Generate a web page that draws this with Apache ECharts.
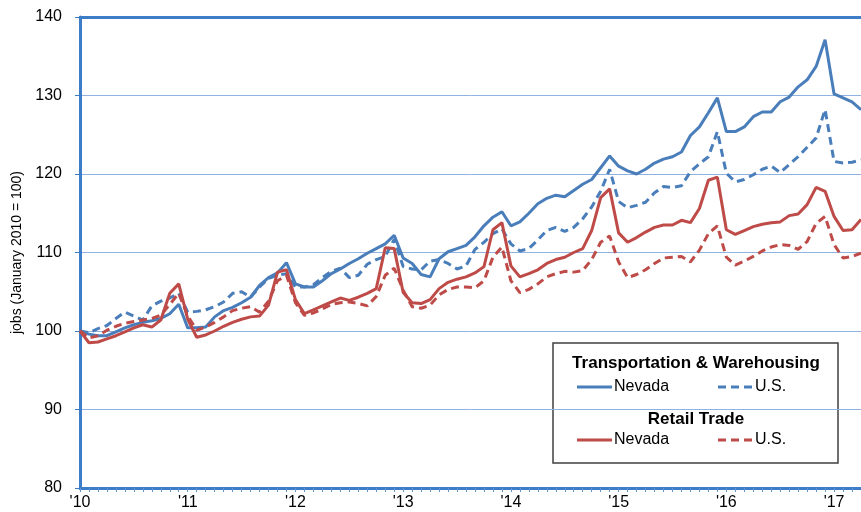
<!DOCTYPE html>
<html>
<head>
<meta charset="utf-8">
<script src="https://cdn.jsdelivr.net/npm/echarts@6/dist/echarts.min.js"></script>
<style>
  html, body { margin: 0; padding: 0; background: #fff; }
  #chart { width: 861px; height: 512px; }
</style>
</head>
<body>
<div id="chart"></div>
<script>
// year tick labels, one per January
var yearLabels = ["'10", "'11", "'12", "'13", "'14", "'15", "'16", "'17"];

// Transportation & Warehousing, Nevada (Jan 2010 = 100), Jan 2010 .. Apr 2017
var nvTransport = [
  100, 99.6, 99.4, 99.4, 99.9, 100.4, 100.8, 101.1, 101.3, 101.6, 102.2, 103.4,
  100.4, 100.4, 100.5, 101.8, 102.6, 103.0, 103.6, 104.3, 105.8, 106.8, 107.4, 108.7,
  106.0, 105.6, 105.6, 106.4, 107.3, 107.9, 108.6, 109.2, 109.9, 110.5, 111.1, 112.2,
  109.3, 108.6, 107.2, 106.9, 109.2, 110.1, 110.5, 110.9, 112.0, 113.4, 114.5, 115.2,
  113.4, 113.9, 115.0, 116.2, 116.9, 117.3, 117.1, 117.9, 118.7, 119.3, 120.8, 122.3,
  121.0, 120.4, 120.0, 120.6, 121.4, 121.9, 122.2, 122.8, 124.9, 126.0, 127.8, 129.7,
  125.4, 125.4, 126.0, 127.3, 127.9, 127.9, 129.2, 129.8, 131.1, 132.0, 133.7, 137.1,
  130.2, 129.7, 129.2, 128.2
];
// Transportation & Warehousing, U.S.
var usTransport = [
  100, 99.8, 100.3, 100.7, 101.6, 102.4, 101.9, 101.4, 103.2, 103.8, 104.2, 104.8,
  102.4, 102.5, 102.7, 103.1, 103.7, 104.8, 105.0, 104.3, 105.6, 106.7, 107.1, 107.3,
  105.6, 105.6, 105.9, 106.8, 107.6, 108.0, 106.8, 107.1, 108.5, 109.1, 109.5, 111.7,
  108.2, 107.9, 107.8, 108.9, 109.1, 108.6, 107.9, 108.3, 110.4, 111.3, 112.4, 113.0,
  111.1, 110.2, 110.5, 111.6, 112.8, 113.2, 112.7, 113.2, 114.3, 115.8, 117.8, 120.6,
  116.5, 115.7, 116.0, 116.4, 117.6, 118.4, 118.3, 118.5, 120.3, 121.3, 122.2, 125.4,
  120.1, 119.0, 119.3, 119.9, 120.6, 121.0, 120.2, 121.2, 122.2, 123.4, 124.6, 128.2,
  121.6, 121.4, 121.5, 121.8
];
// Retail Trade, Nevada
var nvRetail = [
  100, 98.5, 98.6, 99.0, 99.4, 99.9, 100.4, 100.8, 100.5, 101.4, 104.8, 106.0,
  101.5, 99.2, 99.5, 100.0, 100.6, 101.1, 101.5, 101.8, 101.9, 103.3, 107.5, 107.8,
  104.0, 102.2, 102.7, 103.2, 103.7, 104.2, 103.9, 104.3, 104.8, 105.4, 110.6, 110.5,
  104.9, 103.6, 103.5, 104.0, 105.4, 106.2, 106.6, 106.9, 107.4, 108.2, 112.9, 113.8,
  108.3, 106.9, 107.3, 107.8, 108.6, 109.1, 109.4, 110.0, 110.5, 112.8, 117.0, 118.1,
  112.5, 111.3, 111.9, 112.6, 113.2, 113.5, 113.5, 114.1, 113.8, 115.6, 119.2, 119.6,
  112.9, 112.3, 112.8, 113.3, 113.6, 113.8, 113.9, 114.7, 114.9, 116.1, 118.3, 117.8,
  114.6, 112.8, 112.9, 114.2
];
// Retail Trade, U.S.
var usRetail = [
  100, 99.1, 99.4, 100.1, 100.6, 101.0, 101.2, 101.4, 101.6, 102.0, 103.4, 104.8,
  101.9, 100.1, 100.5, 101.1, 101.8, 102.6, 102.9, 103.1, 102.4, 103.8, 106.4, 107.1,
  103.6, 102.0, 102.3, 102.8, 103.4, 103.6, 103.7, 103.5, 103.2, 104.4, 107.1, 108.0,
  105.2, 103.1, 102.9, 103.3, 104.6, 105.3, 105.6, 105.6, 105.5, 106.4, 109.4, 110.7,
  106.4, 104.9, 105.3, 106.0, 106.9, 107.3, 107.6, 107.5, 107.7, 109.1, 111.3, 112.1,
  108.8, 106.8, 107.2, 107.8, 108.6, 109.3, 109.4, 109.5, 108.8, 110.3, 112.4, 113.4,
  109.4, 108.4, 108.9, 109.5, 110.2, 110.7, 111.0, 110.9, 110.4, 111.4, 113.7, 114.6,
  111.0, 109.3, 109.5, 109.9
];

// one category per month, labelled only in January
var months = [];
for (var i = 0; i < nvTransport.length; i++) {
  months.push(i % 12 === 0 ? yearLabels[i / 12] : '');
}

var blue = '#4a7ebb';
var red = '#be4b48';
var axisBlue = '#3d7cc6';
var font = "'Liberation Sans', Arial, sans-serif";

var myChart = echarts.init(document.getElementById('chart'));

function legendRow(y, color) {
  return [
    { type: 'line', shape: { x1: 577, y1: y, x2: 612, y2: y }, style: { stroke: color, lineWidth: 3 } },
    { type: 'text', x: 614, y: y, style: { text: 'Nevada', font: '16px ' + font, fill: '#000', textVerticalAlign: 'middle' } },
    { type: 'line', shape: { x1: 718, y1: y, x2: 753, y2: y }, style: { stroke: color, lineWidth: 3, lineDash: [8, 5] } },
    { type: 'text', x: 755, y: y, style: { text: 'U.S.', font: '16px ' + font, fill: '#000', textVerticalAlign: 'middle' } }
  ];
}

var option = {
  animation: false,
  textStyle: { fontFamily: font },
  grid: { left: 80, right: 0, top: 17, bottom: 24 },
  xAxis: [{
    type: 'category',
    data: months,
    boundaryGap: false,
    axisLine: { lineStyle: { color: axisBlue, width: 3 } },
    axisTick: { show: true, interval: 0, length: 4, lineStyle: { color: '#5b93d3', width: 1 } },
    axisLabel: {
      interval: function (idx) { return idx % 12 === 0; },
      color: '#000', fontSize: 16, margin: 7
    },
    splitLine: { show: false }
  }, {
    type: 'category',
    position: 'top',
    data: months,
    boundaryGap: false,
    axisLine: { lineStyle: { color: axisBlue, width: 3 } },
    axisTick: { show: false },
    axisLabel: { show: false }
  }],
  yAxis: {
    type: 'value',
    min: 80,
    max: 140,
    interval: 10,
    name: 'jobs (January 2010 = 100)',
    nameLocation: 'middle',
    nameRotate: 90,
    nameGap: 55,
    nameTextStyle: { color: '#000', fontSize: 14 },
    axisLine: { show: true, lineStyle: { color: axisBlue, width: 3 } },
    axisTick: { show: true, length: 5, lineStyle: { color: axisBlue, width: 1 } },
    axisLabel: { color: '#000', fontSize: 16, margin: 18 },
    splitLine: { lineStyle: { color: '#8fb2de', width: 1 } }
  },
  series: [
    { name: 'T&W Nevada', type: 'line', data: nvTransport, symbol: 'none',
      lineStyle: { color: blue, width: 3 } },
    { name: 'T&W U.S.', type: 'line', data: usTransport, symbol: 'none',
      lineStyle: { color: blue, width: 3, type: [8, 5] } },
    { name: 'Retail Nevada', type: 'line', data: nvRetail, symbol: 'none',
      lineStyle: { color: red, width: 3 } },
    { name: 'Retail U.S.', type: 'line', data: usRetail, symbol: 'none',
      lineStyle: { color: red, width: 3, type: [8, 5] } }
  ],
  graphic: [{
    type: 'group',
    z: 100,
    children: [
      { type: 'rect', shape: { x: 553, y: 343, width: 285, height: 120 },
        style: { fill: '#fff', stroke: '#404040', lineWidth: 1.5 } },
      { type: 'text', x: 696, y: 363,
        style: { text: 'Transportation & Warehousing', font: 'bold 17px ' + font, fill: '#000',
                 textAlign: 'center', textVerticalAlign: 'middle' } },
      { type: 'text', x: 696, y: 419,
        style: { text: 'Retail Trade', font: 'bold 17px ' + font, fill: '#000',
                 textAlign: 'center', textVerticalAlign: 'middle' } }
    ].concat(legendRow(387, blue)).concat(legendRow(440, red))
  }]
};

myChart.setOption(option);
window.addEventListener('resize', function () {
  myChart.resize();
});
</script>
</body>
</html>
